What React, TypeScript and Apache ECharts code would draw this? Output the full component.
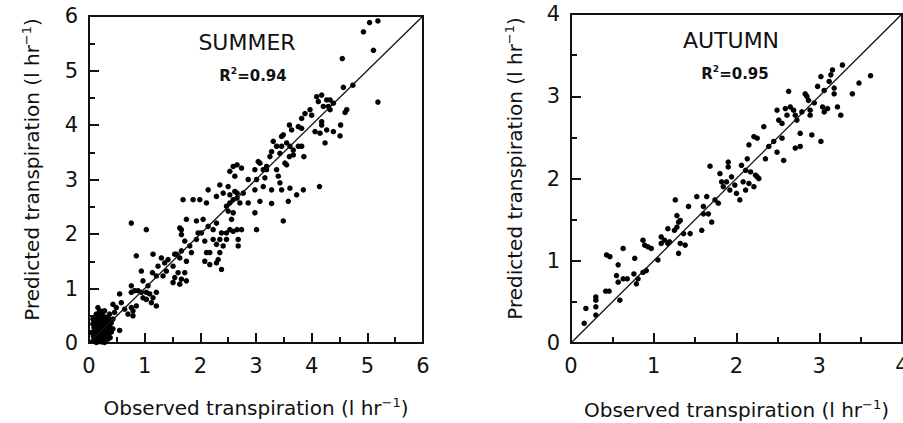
import React, { useEffect, useRef } from "react";
import * as echarts from "echarts";

// Summer: [observed, predicted] transpiration (l hr^-1)
const summerPoints: number[][] = [
  [5.04, 5.88], [5.19, 5.91], [4.93, 5.71], [5.11, 5.37], [4.55, 5.22], [5.19, 4.42], [4.57, 4.69], [4.74, 4.73],
  [4.63, 4.28], [4.6, 4.23], [4.52, 4.0], [4.51, 3.8], [4.39, 3.88], [4.27, 3.91], [4.24, 3.67], [4.06, 3.88], [4.15, 3.85],
  [4.09, 4.52], [4.18, 4.55], [4.27, 4.46], [4.12, 4.43], [4.33, 4.46], [4.21, 4.34], [4.3, 4.34], [4.39, 4.4], [4.33, 4.28],
  [3.97, 4.28], [3.88, 4.21], [4.0, 4.18], [4.18, 4.06], [4.18, 4.0], [3.82, 4.12], [3.76, 3.97], [3.64, 3.91], [3.82, 3.94],
  [3.86, 3.42], [3.6, 4.0], [3.49, 3.82], [3.46, 3.79], [3.55, 3.67], [3.61, 3.61], [3.67, 3.54], [3.76, 3.61], [3.82, 3.61],
  [3.67, 3.45], [3.6, 3.42], [3.31, 3.7], [3.37, 3.61], [3.46, 3.61], [3.28, 3.51], [3.25, 3.42], [3.43, 3.48], [3.52, 3.3],
  [3.55, 3.27], [3.37, 3.18], [3.4, 3.06], [3.43, 2.94], [3.46, 2.81], [3.61, 2.84], [3.73, 2.72], [3.85, 2.81], [4.14, 2.87],
  [3.58, 2.6], [3.49, 2.24], [3.28, 2.56], [3.28, 2.81], [3.13, 2.87], [3.07, 2.6], [2.98, 2.81], [3.01, 3.0], [2.98, 3.18],
  [3.04, 3.33], [3.07, 3.3], [3.13, 3.18], [3.19, 3.18], [3.16, 3.03], [3.19, 3.24], [2.98, 2.39], [3.01, 2.08], [2.86, 2.57],
  [2.86, 3.0], [2.77, 2.75], [2.71, 2.57], [2.66, 2.75], [2.66, 2.08], [2.74, 2.08], [2.59, 2.05], [2.68, 1.9], [2.68, 1.78],
  [2.53, 2.08], [2.47, 2.02], [2.47, 1.9], [2.41, 1.78], [2.35, 1.66], [2.32, 1.53], [2.38, 1.35], [2.29, 1.47], [2.35, 1.9],
  [2.29, 1.81], [2.38, 2.02], [2.29, 2.2], [2.23, 2.08], [2.56, 2.27], [2.59, 2.39], [2.5, 2.42], [2.53, 2.57], [2.59, 2.63],
  [2.66, 2.66], [2.53, 2.72], [2.62, 2.78], [2.53, 3.15], [2.59, 3.24], [2.66, 3.27], [2.74, 3.21], [2.62, 3.06], [2.5, 2.87],
  [2.41, 2.75], [2.47, 2.51], [2.35, 2.9], [2.14, 2.81], [2.29, 2.69], [2.11, 2.57], [2.05, 2.27], [2.14, 2.14], [2.02, 2.02],
  [2.08, 1.87], [2.17, 1.66], [2.08, 1.5], [2.17, 1.44], [2.11, 1.66], [2.23, 1.9], [1.96, 2.02], [1.93, 1.9], [1.87, 2.63],
  [1.99, 2.63], [1.69, 2.63], [1.93, 2.24], [1.75, 2.27], [1.66, 2.08], [1.66, 1.99], [1.63, 2.11], [1.72, 1.87], [1.81, 1.78],
  [1.84, 1.66], [1.75, 1.5], [1.72, 1.29], [1.75, 1.14], [1.66, 1.69], [1.57, 1.63], [1.63, 1.56], [1.51, 1.41], [1.6, 1.29],
  [1.54, 1.2], [1.51, 1.11], [1.66, 1.17], [1.63, 1.08], [1.54, 1.63], [1.42, 1.53], [1.36, 1.47], [1.39, 1.32], [1.33, 1.23],
  [1.3, 1.56], [1.24, 1.41], [1.15, 1.63], [1.14, 1.29], [1.21, 1.23], [1.21, 0.93], [1.21, 0.68], [1.12, 0.74], [1.06, 1.05],
  [0.97, 1.14], [0.85, 1.6], [0.94, 1.32], [1.03, 0.93], [1.09, 0.9], [1.15, 0.83], [0.94, 0.93], [0.88, 0.96], [0.97, 0.83],
  [1.03, 0.8], [0.76, 1.05], [0.76, 0.93], [0.82, 0.96], [0.76, 2.2], [1.03, 2.08], [0.79, 0.5], [0.7, 0.53], [0.79, 0.59],
  [0.85, 0.68], [0.76, 0.65], [0.55, 0.9], [0.58, 0.74], [0.64, 0.62], [0.55, 0.23], [0.43, 0.71], [0.49, 0.65], [0.46, 0.56],
  [0.37, 0.53], [0.43, 0.44], [0.31, 0.47],
  [0.07, 0.44], [0.1, 0.32], [0.13, 0.19], [0.16, 0.07], [0.19, 0.26], [0.22, 0.38], [0.25, 0.13], [0.28, 0.29], [0.31, 0.19],
  [0.34, 0.07], [0.1, 0.1], [0.19, 0.59], [0.13, 0.53], [0.25, 0.5], [0.07, 0.04], [0.19, 0.04], [0.28, 0.01], [0.16, 0.44],
  [0.37, 0.32], [0.22, 0.19], [0.13, 0.01], [0.04, 0.19], [0.07, 0.35], [0.31, 0.38], [0.43, 0.26], [0.16, 0.65], [0.28, 0.59],
  [0.12, 0.25], [0.15, 0.3], [0.18, 0.12], [0.2, 0.33], [0.24, 0.22], [0.1, 0.4], [0.14, 0.15], [0.26, 0.05], [0.22, 0.48],
  [0.17, 0.22], [0.29, 0.16], [0.11, 0.05], [0.23, 0.28], [0.2, 0.08], [0.33, 0.25], [0.36, 0.44], [0.4, 0.37],
  [0.09, 0.2], [0.12, 0.35], [0.14, 0.45], [0.17, 0.5], [0.12, 0.12], [0.15, 0.02], [0.18, 0.17], [0.21, 0.3], [0.24, 0.4],
  [0.27, 0.45], [0.2, 0.55], [0.26, 0.35], [0.3, 0.3], [0.33, 0.35], [0.35, 0.15], [0.38, 0.1], [0.3, 0.08], [0.25, 0.25],
  [0.21, 0.12], [0.16, 0.38], [0.09, 0.28], [0.27, 0.2], [0.32, 0.45], [0.24, 0.58], [0.08, 0.12], [0.35, 0.28], [0.18, 0.03],
  [0.23, 0.02], [0.4, 0.2], [0.14, 0.22],
];

// Autumn: [observed, predicted] transpiration (l hr^-1)
const autumnPoints: number[][] = [
  [0.16, 0.24], [0.18, 0.42], [0.3, 0.34], [0.3, 0.44], [0.3, 0.52], [0.3, 0.56], [0.42, 0.63], [0.46, 0.63], [0.59, 0.52],
  [0.55, 0.82], [0.57, 0.74], [0.63, 0.78], [0.68, 0.78], [0.79, 0.72], [0.81, 0.78], [0.76, 0.84], [0.87, 0.86], [0.91, 0.88],
  [1.05, 1.01], [0.43, 1.07], [0.47, 1.05], [0.57, 0.95], [0.63, 1.15], [0.77, 1.03], [0.87, 1.25], [0.89, 1.19], [0.93, 1.17],
  [0.97, 1.15], [1.09, 1.29], [1.09, 1.21], [1.13, 1.25], [1.17, 1.21], [1.19, 1.23], [1.17, 1.39], [1.25, 1.37], [1.26, 1.74],
  [1.28, 1.55], [1.3, 1.47], [1.32, 1.49], [1.28, 1.41], [1.36, 1.33], [1.32, 1.21], [1.3, 1.09], [1.38, 1.19], [1.42, 1.66],
  [1.44, 1.33], [1.52, 1.78], [1.58, 1.37], [1.6, 1.57], [1.6, 1.66], [1.64, 1.78], [1.66, 1.57], [1.7, 1.47], [1.68, 2.15],
  [1.74, 1.74], [1.78, 1.7], [1.82, 1.96], [1.8, 2.06], [1.84, 1.9], [1.9, 2.2], [1.9, 2.14], [1.88, 1.96], [1.92, 1.86],
  [1.94, 2.02], [1.98, 1.92], [2.0, 1.82], [2.04, 1.74], [2.06, 2.16], [2.11, 2.1], [2.13, 2.24], [2.08, 1.96], [2.11, 1.86],
  [2.15, 1.94], [2.17, 2.08], [2.21, 1.9], [2.23, 2.04], [2.25, 2.02], [2.27, 2.0], [2.15, 2.41], [2.21, 2.51], [2.25, 2.49],
  [2.33, 2.63], [2.35, 2.24], [2.39, 2.39], [2.45, 2.45], [2.49, 2.32], [2.55, 2.49], [2.49, 2.83], [2.51, 2.71], [2.55, 2.67],
  [2.59, 2.85], [2.57, 2.22], [2.63, 3.06], [2.61, 2.77], [2.65, 2.87], [2.69, 2.83], [2.71, 2.77], [2.73, 2.71], [2.71, 2.37],
  [2.77, 2.39], [2.77, 2.55], [2.79, 2.81], [2.83, 3.03], [2.85, 3.0], [2.87, 2.95], [2.89, 2.83], [2.89, 2.77], [2.91, 2.53],
  [3.02, 2.45], [2.94, 2.92], [2.98, 3.12], [3.02, 3.24], [3.06, 3.07], [3.12, 3.18], [3.14, 3.26], [3.16, 3.32], [3.18, 3.1],
  [3.18, 3.03], [3.04, 2.87], [3.06, 2.81], [3.1, 2.85], [3.22, 2.87], [3.26, 2.77], [3.28, 3.38], [3.4, 3.03], [3.48, 3.16],
  [3.62, 3.25],
];

const summerLine: number[][] = [[0, 0], [6, 6]];
const autumnLine: number[][] = [[0, 0], [4, 4]];
const summerTicks = { min: 0, max: 6, interval: 1 };
const autumnTicks = { min: 0, max: 4, interval: 1 };

const FONT = "DejaVu Sans";
const INK = "#111";

const nameRich = {
  n: { fontSize: 20, fontFamily: FONT, color: INK },
  sup: { fontSize: 13, fontFamily: FONT, color: INK, padding: [0, 0, 10, 0] },
};

function axisCommon(ticks: { min: number; max: number; interval: number }) {
  return {
    type: "value",
    min: ticks.min,
    max: ticks.max,
    interval: ticks.interval,
    axisLine: { show: true, onZero: false, lineStyle: { color: INK, width: 2 } },
    axisTick: { show: true, inside: true, length: 10, lineStyle: { color: INK, width: 2 } },
    minorTick: { show: true, splitNumber: 2, length: 6, lineStyle: { color: INK, width: 2 } },
    splitLine: { show: false },
  };
}

function xAxisDef(gridIndex: number, ticks: { min: number; max: number; interval: number }, gap: number) {
  return {
    gridIndex,
    ...axisCommon(ticks),
    axisLabel: {
      fontSize: 21, fontFamily: FONT, color: INK, margin: 12,
      alignMinLabel: "center", alignMaxLabel: "center", hideOverlap: false,
    },
    name: "{n|Observed transpiration (l hr}{sup|−1}{n|)}",
    nameLocation: "middle",
    nameGap: gap,
    nameTextStyle: { rich: nameRich },
  };
}

function yAxisDef(gridIndex: number, ticks: { min: number; max: number; interval: number }, gap: number) {
  return {
    gridIndex,
    ...axisCommon(ticks),
    axisLabel: { fontSize: 21, fontFamily: FONT, color: INK, margin: 11 },
    name: "{n|Predicted transpiration (l hr}{sup|−1}{n|)}",
    nameLocation: "middle",
    nameGap: gap,
    nameTextStyle: { rich: nameRich, padding: [0, 0, 0, 20] },
  };
}

export default function App() {
  const ref = useRef<HTMLDivElement>(null);
  useEffect(() => {
    if (!ref.current) return;
    const chart = echarts.init(ref.current, undefined, { renderer: "svg" });
    chart.setOption({
      animation: false,
      backgroundColor: "#fff",
      grid: [
        {
          left: 89, top: 16, width: 334, height: 327, show: true, borderColor: INK, borderWidth: 2,
          backgroundColor: "transparent", containLabel: false, outerBoundsMode: "none",
        },
        {
          left: 571, top: 14, width: 331, height: 329, show: true, borderColor: INK, borderWidth: 2,
          backgroundColor: "transparent", containLabel: false, outerBoundsMode: "none",
        },
      ],
      xAxis: [xAxisDef(0, summerTicks, 53), xAxisDef(1, autumnTicks, 55)],
      yAxis: [yAxisDef(0, summerTicks, 46), yAxisDef(1, autumnTicks, 45)],
      series: [
        {
          type: "scatter", xAxisIndex: 0, yAxisIndex: 0, data: summerPoints,
          symbol: "circle", symbolSize: 5.5, itemStyle: { color: "#000", opacity: 1 },
        },
        {
          type: "line", xAxisIndex: 0, yAxisIndex: 0, data: summerLine,
          symbol: "none", lineStyle: { color: INK, width: 1.3 },
        },
        {
          type: "scatter", xAxisIndex: 1, yAxisIndex: 1, data: autumnPoints,
          symbol: "circle", symbolSize: 5.5, itemStyle: { color: "#000", opacity: 1 },
        },
        {
          type: "line", xAxisIndex: 1, yAxisIndex: 1, data: autumnLine,
          symbol: "none", lineStyle: { color: INK, width: 1.3 },
        },
      ],
      graphic: [
        {
          type: "text", x: 247, y: 42,
          style: { text: "SUMMER", font: `22px ${FONT}`, fill: INK, align: "center", verticalAlign: "middle" },
        },
        {
          type: "text", x: 253, y: 76,
          style: {
            text: "R{s|2}=0.94", font: `bold 15px ${FONT}`, fill: INK, align: "center", verticalAlign: "middle",
            rich: { s: { fontSize: 9, fontWeight: "bold", fontFamily: FONT, padding: [0, 0, 10, 0] } },
          },
        },
        {
          type: "text", x: 731, y: 40,
          style: { text: "AUTUMN", font: `22px ${FONT}`, fill: INK, align: "center", verticalAlign: "middle" },
        },
        {
          type: "text", x: 735, y: 74,
          style: {
            text: "R{s|2}=0.95", font: `bold 15px ${FONT}`, fill: INK, align: "center", verticalAlign: "middle",
            rich: { s: { fontSize: 9, fontWeight: "bold", fontFamily: FONT, padding: [0, 0, 10, 0] } },
          },
        },
      ],
    });
    return () => chart.dispose();
  }, []);
  return (
    <div
      ref={ref}
      style={{ position: "fixed", left: 0, top: 0, width: 903, height: 423, background: "#fff" }}
    />
  );
}
